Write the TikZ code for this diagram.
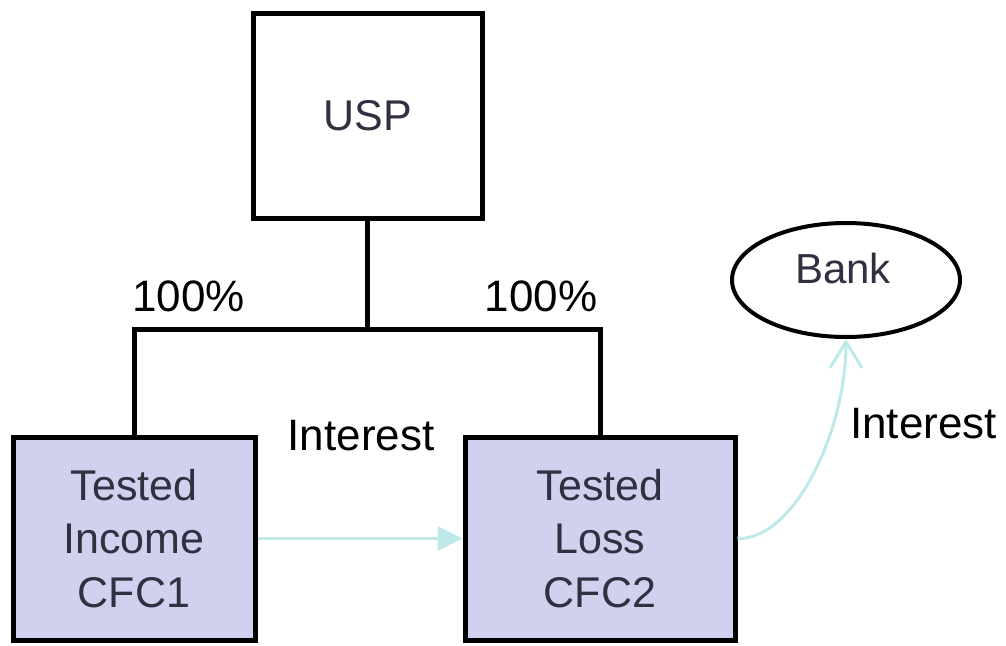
\documentclass[tikz,border=0pt]{standalone}
\usepackage{fontspec}
\setmainfont{Liberation Sans}
\usetikzlibrary{arrows.meta,shapes.geometric}
\definecolor{boxfill}{HTML}{D0D0EF}
\definecolor{boxtext}{HTML}{303040}
\definecolor{flow}{HTML}{BFE9E9}
\tikzset{
  ent/.style={draw=black, line width=5pt, rectangle, inner sep=0pt, align=center,
    text=boxtext, font=\fontsize{43}{53.5}\selectfont},
  cfc/.style={ent, fill=boxfill},
  tree/.style={draw=black, line width=5pt},
  lbl/.style={anchor=base, inner sep=0pt, text=black, font=\fontsize{44}{50}\selectfont},
  flowline/.style={draw=flow, line width=3pt},
}
\begin{document}
\begin{tikzpicture}[x=1pt,y=-1pt]
\useasboundingbox (0,0) rectangle (1006,645);
\node[ent, minimum width=229pt, minimum height=205pt] (usp) at (367.5,115.5) {USP};
\node[cfc, minimum width=242pt, minimum height=203pt] (cfc1) at (134,538.5) {Tested\\Income\\CFC1};
\node[cfc, minimum width=270pt, minimum height=203pt] (cfc2) at (600,538.5) {Tested\\Loss\\CFC2};
\node[draw=black, line width=4pt, ellipse, minimum width=228pt, minimum height=114pt, inner sep=0pt] (bank) at (846,280) {};
\node[inner sep=0pt, text=boxtext, font=\fontsize{42}{50}\selectfont] (banktext) at (843,268) {Bank};
\coordinate (j) at (367.5,329);
\draw[tree] (usp.south) -- (j);
\draw[tree] (cfc1.north) |- (j) -| (cfc2.north);
\node[lbl] (p1) at (188.5,311) {100\%};
\node[lbl] (p2) at (541,311) {100\%};
\node[lbl] (i1) at (361,450) {Interest};
\node[lbl] (i2) at (923.5,438) {Interest};
\draw[flowline, -{Triangle[length=25pt,width=24pt]}] (cfc1.east) -- (cfc2.west);
\draw[flowline, -{Straight Barb[length=26pt,width=32pt]}] (cfc2.east) .. controls (795,540) and (846,430) .. (bank.south);
\end{tikzpicture}
\end{document}
